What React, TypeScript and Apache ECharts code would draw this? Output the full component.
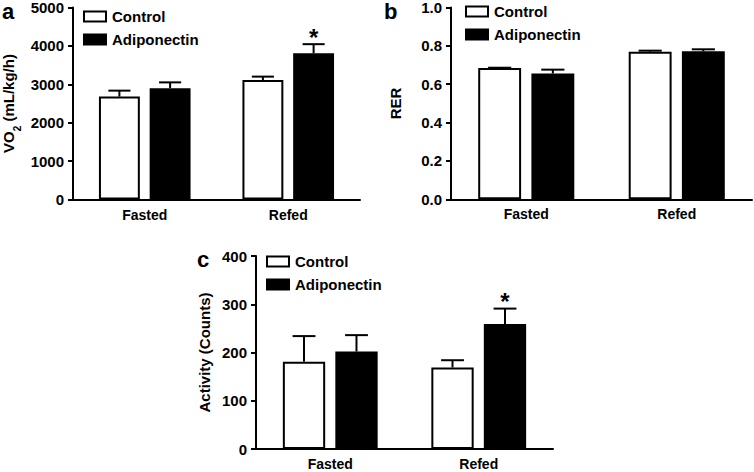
import React, { useEffect, useRef } from "react";
import * as echarts from "echarts";

const categories = ["Fasted", "Refed"];
const seriesNames = ["Control", "Adiponectin"];

// Panel a: VO2 (mL/kg/h)
const vo2Control = [2680, 3110];
const vo2ControlErr = [155, 90];
const vo2Adipo = [2900, 3810];
const vo2AdipoErr = [150, 235];
const vo2Star = [false, true];

// Panel b: RER
const rerControl = [0.684, 0.769];
const rerControlErr = [0.002, 0.006];
const rerAdipo = [0.656, 0.772];
const rerAdipoErr = [0.02, 0.01];
const rerStar = [false, false];

// Panel c: Activity (Counts)
const actControl = [181, 169];
const actControlErr = [53, 15];
const actAdipo = [202, 259];
const actAdipoErr = [34, 32];
const actStar = [false, true];

const FONT = "'Liberation Sans', Arial, Helvetica, sans-serif";
const BAR_FRAC = 0.285;
const GAP_FRAC = 0.24;

type Panel = {
  letter: string;
  grid: { left: number; top: number; width: number; height: number };
  yMax: number;
  yInterval: number;
  decimals: number;
  name: string;
  nameGap: number;
  control: number[];
  controlErr: number[];
  adipo: number[];
  adipoErr: number[];
  star: boolean[];
  legendPos: { left: number; top: number };
  letterPos: { x: number; y: number };
};

const panels: Panel[] = [
  {
    letter: "a",
    grid: { left: 72, top: 7.5, width: 288, height: 192 },
    yMax: 5000,
    yInterval: 1000,
    decimals: 0,
    name: "{n|VO}{s|2}{n| (mL/kg/h)}",
    nameGap: 57,
    control: vo2Control,
    controlErr: vo2ControlErr,
    adipo: vo2Adipo,
    adipoErr: vo2AdipoErr,
    star: vo2Star,
    legendPos: { left: 83, top: 9 },
    letterPos: { x: 2, y: 0 },
  },
  {
    letter: "b",
    grid: { left: 451, top: 7.3, width: 301, height: 192 },
    yMax: 1,
    yInterval: 0.2,
    decimals: 1,
    name: "{n|RER}",
    nameGap: 48,
    control: rerControl,
    controlErr: rerControlErr,
    adipo: rerAdipo,
    adipoErr: rerAdipoErr,
    star: rerStar,
    legendPos: { left: 465, top: 4 },
    letterPos: { x: 384, y: 0 },
  },
  {
    letter: "c",
    grid: { left: 256, top: 256, width: 297, height: 193 },
    yMax: 400,
    yInterval: 100,
    decimals: 0,
    name: "{n|Activity (Counts)}",
    nameGap: 44,
    control: actControl,
    controlErr: actControlErr,
    adipo: actAdipo,
    adipoErr: actAdipoErr,
    star: actStar,
    legendPos: { left: 266, top: 254 },
    letterPos: { x: 197, y: 248 },
  },
];

function buildOption() {
  const grid: any[] = [];
  const xAxis: any[] = [];
  const yAxis: any[] = [];
  const series: any[] = [];
  const legend: any[] = [];
  const graphic: any[] = [];

  panels.forEach((p, i) => {
    grid.push({ ...p.grid, containLabel: false });
    xAxis.push({
      type: "category",
      gridIndex: i,
      data: categories,
      axisLine: { lineStyle: { color: "#000", width: 2 } },
      axisTick: { show: false },
      axisLabel: { color: "#000", fontFamily: FONT, fontWeight: "bold", fontSize: 14, margin: 8 },
    });
    yAxis.push({
      type: "value",
      gridIndex: i,
      min: 0,
      max: p.yMax,
      interval: p.yInterval,
      splitLine: { show: false },
      axisLine: { show: true, lineStyle: { color: "#000", width: 2 } },
      axisTick: { show: true, length: 5, lineStyle: { color: "#000", width: 2 } },
      axisLabel: {
        color: "#000",
        fontFamily: FONT,
        fontWeight: "bold",
        fontSize: 15,
        margin: 9,
        formatter: (v: number) => v.toFixed(p.decimals),
      },
      name: p.name,
      nameLocation: "middle",
      nameRotate: 90,
      nameGap: p.nameGap,
      nameTextStyle: {
        rich: {
          n: { fontFamily: FONT, fontWeight: "bold", fontSize: 15, color: "#000" },
          s: { fontFamily: FONT, fontWeight: "bold", fontSize: 10, color: "#000", verticalAlign: "bottom", padding: [0, 0, -6, 0] },
        },
      },
    });
    series.push({
      type: "bar",
      name: seriesNames[0],
      xAxisIndex: i,
      yAxisIndex: i,
      data: p.control,
      barWidth: BAR_FRAC * 100 + "%",
      barGap: GAP_FRAC * 100 + "%",
      itemStyle: { color: "#fff", borderColor: "#000", borderWidth: 2 },
    });
    series.push({
      type: "bar",
      name: seriesNames[1],
      xAxisIndex: i,
      yAxisIndex: i,
      data: p.adipo,
      barWidth: BAR_FRAC * 100 + "%",
      barGap: GAP_FRAC * 100 + "%",
      itemStyle: { color: "#000", borderColor: "#000", borderWidth: 2 },
    });
    const errData: any[] = [];
    categories.forEach((_, c) => {
      errData.push([c, p.control[c], p.controlErr[c], 0, 0]);
      errData.push([c, p.adipo[c], p.adipoErr[c], 1, p.star[c] ? 1 : 0]);
    });
    series.push({
      type: "custom",
      xAxisIndex: i,
      yAxisIndex: i,
      silent: true,
      encode: { x: 0, y: 1 },
      data: errData,
      renderItem: (params: any, api: any) => {
        const cat = api.value(0);
        const val = api.value(1);
        const err = api.value(2);
        const idx = api.value(3);
        const star = api.value(4);
        const band = api.size([1, 0])[0];
        const bw = band * BAR_FRAC;
        const off = ((idx === 0 ? -1 : 1) * bw * (1 + GAP_FRAC)) / 2;
        const base = api.coord([cat, val]);
        const top = api.coord([cat, val + err]);
        const x = base[0] + off;
        const half = bw * 0.27;
        const style = { stroke: "#000", lineWidth: 2 };
        const children: any[] = [
          { type: "line", shape: { x1: x, y1: base[1], x2: x, y2: top[1] }, style },
          { type: "line", shape: { x1: x - half, y1: top[1], x2: x + half, y2: top[1] }, style },
        ];
        if (star) {
          children.push({
            type: "text",
            x: x,
            y: top[1] + 5,
            style: {
              text: "*",
              fill: "#000",
              font: `bold 24px ${FONT}`,
              align: "center",
              verticalAlign: "bottom",
            },
          });
        }
        return { type: "group", children };
      },
      z: 5,
    });
    legend.push({
      data: seriesNames,
      orient: "vertical",
      left: p.legendPos.left,
      top: p.legendPos.top,
      itemWidth: 22,
      itemHeight: 10,
      itemGap: 8,
      padding: 0,
      selectedMode: false,
      icon: "rect",
      textStyle: { color: "#000", fontFamily: FONT, fontWeight: "bold", fontSize: 15, padding: [0, 0, 0, 1] },
    });
    graphic.push({
      type: "text",
      left: p.letterPos.x,
      top: p.letterPos.y,
      style: { text: p.letter, fill: "#000", font: `bold 22px ${FONT}` },
    });
  });

  return {
    animation: false,
    backgroundColor: "#fff",
    grid,
    xAxis,
    yAxis,
    series,
    legend,
    graphic,
  };
}

export default function App() {
  const ref = useRef<HTMLDivElement>(null);
  useEffect(() => {
    if (!ref.current) return;
    const chart = echarts.init(ref.current, undefined, { renderer: "svg" });
    chart.setOption(buildOption() as any);
    return () => chart.dispose();
  }, []);
  return (
    <div
      ref={ref}
      style={{ position: "absolute", left: 0, top: 0, width: 754, height: 472, background: "#fff" }}
    />
  );
}
